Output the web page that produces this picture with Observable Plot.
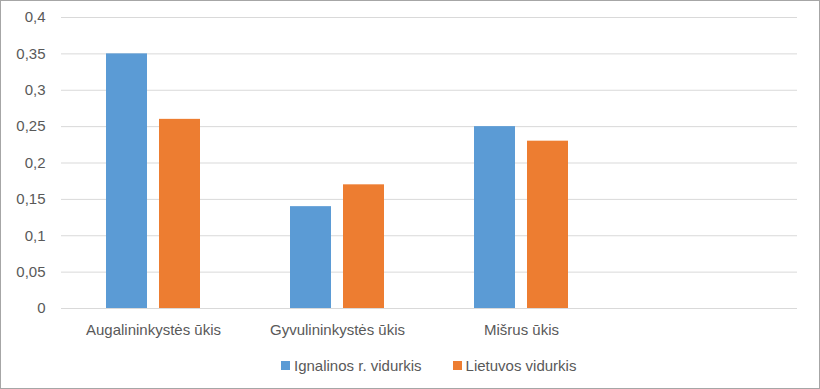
<!DOCTYPE html>
<html>
<head>
<meta charset="utf-8">
<script src="https://cdn.jsdelivr.net/npm/d3@7"></script>
<script src="https://cdn.jsdelivr.net/npm/@observablehq/plot@0.6"></script>
<style>
  html, body { margin: 0; padding: 0; background: #fff; }
  #frame { position: relative; width: 818px; height: 387px; border: 1px solid #a6a6a6; overflow: hidden; font-family: "Liberation Sans", Arial, sans-serif; }
  #legend { position: absolute; left: 280px; top: 356px; display: flex; align-items: center; font-size: 15px; color: #595959; }
  .item { display: flex; align-items: center; margin-right: 31px; }
  .sw { width: 9px; height: 9px; margin-right: 4px; }
</style>
</head>
<body>
<div id="frame"><div id="chart"></div><div id="legend"></div></div>
<script>
const categories = ["Augalininkystės ūkis", "Gyvulininkystės ūkis", "Mišrus ūkis", ""];
const seriesNames = ["Ignalinos r. vidurkis", "Lietuvos vidurkis"];
const ignalina = [0.35, 0.14, 0.25];
const lietuva = [0.26, 0.17, 0.23];
const yTicks = [0, 0.05, 0.1, 0.15, 0.2, 0.25, 0.3, 0.35, 0.4];
const colors = ["#5B9BD5", "#ED7D31"];

const dataA = ignalina.map((v, i) => ({cat: categories[i], value: v}));
const dataB = lietuva.map((v, i) => ({cat: categories[i], value: v}));

const fmt = d => String(+d.toFixed(2)).replace(".", ",");

const chart = Plot.plot({
  width: 818,
  height: 344,
  marginLeft: 60,
  marginRight: 22,
  marginTop: 16,
  marginBottom: 37,
  style: {fontFamily: "'Liberation Sans', Arial, sans-serif", fontSize: "15px", color: "#595959", background: "transparent"},
  x: {domain: categories, padding: 0, label: null},
  y: {domain: [0, 0.4], ticks: yTicks, label: null},
  marks: [
    Plot.gridY(yTicks, {stroke: "#d9d9d9", strokeOpacity: 1}),
    Plot.barY(dataA, {x: "cat", y: "value", fill: colors[0], insetLeft: 45, insetRight: 98}),
    Plot.barY(dataB, {x: "cat", y: "value", fill: colors[1], insetLeft: 98, insetRight: 45}),
    Plot.axisY(yTicks, {tickSize: 0, tickPadding: 16, tickFormat: fmt, fill: "#595959", fontSize: 15, label: null}),
    Plot.axisX({tickSize: 0, tickPadding: 16, fill: "#595959", fontSize: 15, label: null})
  ]
});
document.getElementById("chart").appendChild(chart);

const legend = document.getElementById("legend");
seriesNames.forEach((n, i) => {
  const it = document.createElement("div");
  it.className = "item";
  const sw = document.createElement("span");
  sw.className = "sw";
  sw.style.background = colors[i];
  const t = document.createElement("span");
  t.textContent = n;
  it.appendChild(sw); it.appendChild(t);
  legend.appendChild(it);
});
</script>
</body>
</html>
